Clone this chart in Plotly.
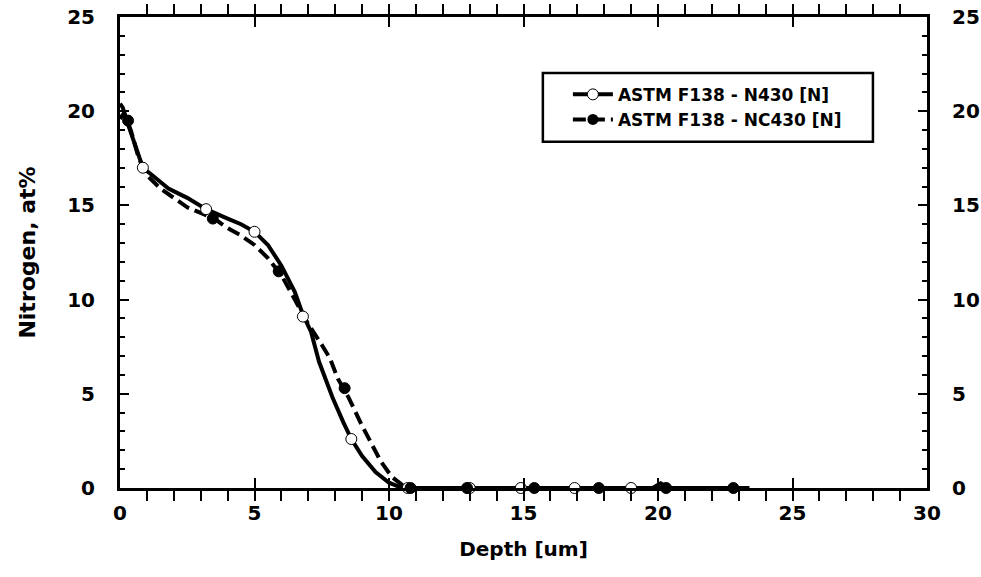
import plotly.graph_objects as go

# ---- data ----
n430_depth = [0.0, 0.1, 0.3, 0.6, 0.85, 1.2, 1.8, 2.5, 3.2, 4.0, 4.5, 5.0, 5.5, 6.0, 6.5,
              6.8, 7.1, 7.4, 7.9, 8.3, 8.6, 9.0, 9.5, 10.0, 10.4, 10.7, 13.0, 15.0, 17.0,
              19.0, 19.8, 20.1, 20.4, 21.4, 23.4]
n430_n = [20.4, 20.2, 19.3, 18.0, 17.0, 16.6, 15.9, 15.4, 14.8, 14.3, 14.0, 13.6, 12.9, 11.8,
          10.4, 9.2, 8.3, 6.7, 4.8, 3.5, 2.6, 1.7, 0.85, 0.28, 0.05, 0.0, 0.0, 0.0, 0.0,
          0.0, 0.0, 0.25, 0.0, 0.0, 0.0]
n430_mark_depth = [0.85, 3.2, 5.0, 6.8, 8.6, 10.7, 13.0, 14.9, 16.9, 19.0]
n430_mark_n = [17.0, 14.8, 13.6, 9.1, 2.6, 0.0, 0.0, 0.0, 0.0, 0.0]

nc430_depth = [0.0, 0.15, 0.4, 0.7, 1.0, 1.5, 2.0, 2.5, 3.0, 3.5, 4.0, 4.5, 5.0, 5.5, 6.0,
               6.5, 7.0, 7.5, 7.8, 8.1, 8.5, 9.0, 9.4, 9.7, 10.1, 10.5, 10.8, 12.9, 15.4,
               17.8, 20.3, 22.8]
nc430_n = [19.6, 19.9, 19.0, 17.5, 16.6, 15.9, 15.4, 14.9, 14.6, 14.3, 13.8, 13.4, 12.9,
           12.2, 11.3, 10.0, 8.7, 7.6, 6.9, 5.8, 4.8, 3.3, 2.2, 1.4, 0.6, 0.15, 0.0, 0.0,
           0.0, 0.0, 0.0, 0.0]
nc430_mark_depth = [0.3, 3.45, 5.9, 8.35, 10.8, 12.9, 15.4, 17.8, 20.3, 22.8]
nc430_mark_n = [19.5, 14.3, 11.5, 5.3, 0.0, 0.0, 0.0, 0.0, 0.0, 0.0]

names = ["ASTM F138 - N430 [N]", "ASTM F138 - NC430 [N]"]
x_ticks = [0, 5, 10, 15, 20, 25, 30]
y_ticks = [0, 5, 10, 15, 20, 25]

FONT = "DejaVu Sans, sans-serif"
fig = go.Figure()

# lines
fig.add_trace(go.Scatter(x=n430_depth, y=n430_n, mode="lines", showlegend=False,
                         line=dict(color="black", width=4), hoverinfo="skip"))
fig.add_trace(go.Scatter(x=nc430_depth, y=nc430_n, mode="lines", showlegend=False,
                         line=dict(color="black", width=4, dash="13px,6px"), hoverinfo="skip"))
# markers
fig.add_trace(go.Scatter(x=n430_mark_depth, y=n430_mark_n, mode="markers", showlegend=False,
                         cliponaxis=False,
                         marker=dict(symbol="circle", size=11, color="white",
                                     line=dict(color="black", width=1))))
fig.add_trace(go.Scatter(x=nc430_mark_depth, y=nc430_mark_n, mode="markers", showlegend=False,
                         cliponaxis=False,
                         marker=dict(symbol="circle", size=11, color="black",
                                     line=dict(color="black", width=1))))
# legend entries
fig.add_trace(go.Scatter(x=[None], y=[None], mode="lines+markers", name=names[0],
                         line=dict(color="black", width=4),
                         marker=dict(size=11, color="white", line=dict(color="black", width=1))))
fig.add_trace(go.Scatter(x=[None], y=[None], mode="lines+markers", name=names[1],
                         line=dict(color="black", width=4, dash="13px,6px"),
                         marker=dict(size=11, color="black")))

tick_font = dict(family=FONT, size=20, color="black", weight="bold")

fig.update_layout(
    width=981, height=577,
    margin=dict(l=120, r=54, t=17, b=89, autoexpand=False),
    paper_bgcolor="white", plot_bgcolor="white",
    font=dict(family=FONT, color="black"),
    showlegend=True,
    legend=dict(x=0.555, y=0.873, xanchor="left", yanchor="top",
                bgcolor="rgba(0,0,0,0)", borderwidth=0,
                font=dict(family=FONT, size=17, color="black", weight="bold"),
                itemwidth=40, tracegroupgap=0),
    shapes=[dict(type="rect", xref="paper", yref="paper", x0=0.524, x1=0.933,
                 y0=0.735, y1=0.881, line=dict(color="black", width=2.5),
                 fillcolor="white", layer="below")],
    xaxis=dict(range=[0, 30], tickvals=x_ticks, ticks="inside", ticklen=10, tickwidth=1.5,
               tickcolor="black", showline=True, linecolor="black", linewidth=3,
               mirror="allticks", showgrid=False, zeroline=False, automargin=False,
               tickfont=tick_font, ticklabelstandoff=5,
               minor=dict(dtick=1, ticks="outside", ticklen=4, tickwidth=1.5,
                          tickcolor="black", showgrid=False),
               title=dict(text="Depth [um]", font=dict(family=FONT, size=20, color="black",
                                                          weight="bold"), standoff=18)),
    yaxis=dict(range=[0, 25], tickvals=y_ticks, ticks="inside", ticklen=9, tickwidth=1.5,
               tickcolor="black", showline=True, linecolor="black", linewidth=3,
               showgrid=False, zeroline=False, tickfont=tick_font, ticklabelstandoff=18,
               automargin=False,
               minor=dict(dtick=1, ticks="inside", ticklen=5, tickwidth=1.5,
                          tickcolor="black", showgrid=False),
               title=dict(text="Nitrogen, at%", font=dict(family=FONT, size=22, color="black",
                                                            weight="bold"), standoff=26)),
    yaxis2=dict(range=[0, 25], tickvals=y_ticks, overlaying="y", side="right",
                ticks="inside", ticklen=9, tickwidth=1.5, tickcolor="black",
                showline=True, linecolor="black", linewidth=3, showgrid=False,
                zeroline=False, tickfont=tick_font, ticklabelstandoff=18, automargin=False,
                minor=dict(dtick=1, ticks="inside", ticklen=5, tickwidth=1.5,
                           tickcolor="black", showgrid=False)),
)
# invisible trace to anchor the right axis
fig.add_trace(go.Scatter(x=[None], y=[None], yaxis="y2", showlegend=False, hoverinfo="skip"))

fig.write_html("out.html")
